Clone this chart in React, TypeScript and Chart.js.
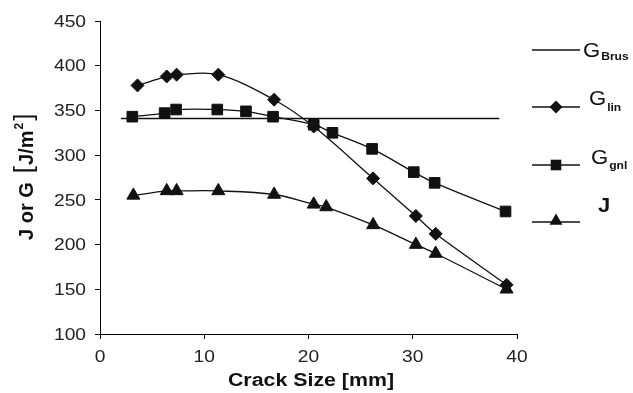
import React, { useEffect, useRef } from "react";
import { Chart, registerables } from "chart.js";

Chart.register(...registerables);

const brusX = [2.0, 38.3];
const brusY = [341, 341];

const linX = [3.6, 6.4, 7.35, 11.35, 16.7, 20.5, 26.2, 30.3, 32.2, 39.0];
const linY = [378, 388, 390, 390, 362, 332, 274, 232, 212, 155];

const gnlX = [3.1, 6.2, 7.3, 11.25, 14.0, 16.6, 20.5, 22.3, 26.1, 30.1, 32.1, 38.9];
const gnlY = [343, 347, 351, 351, 349, 343, 334, 325, 307, 281, 269, 237];

const jX = [3.2, 6.4, 7.35, 11.35, 16.7, 20.5, 21.7, 26.2, 30.3, 32.2, 39.0];
const jY = [255, 260, 260, 260, 256, 245, 242, 222, 200, 190, 150];

const xTicks = [0, 10, 20, 30, 40];
const yTicks = [100, 150, 200, 250, 300, 350, 400, 450];

const FONT = "'Liberation Sans', Arial, Helvetica, sans-serif";
const INK = "#111";

const pts = (xs: number[], ys: number[]) => xs.map((x, i) => ({ x, y: ys[i] }));

const fillStretched = (
  ctx: CanvasRenderingContext2D,
  text: string,
  x: number,
  y: number,
  sx: number,
  align: "left" | "right" | "center"
) => {
  ctx.save();
  ctx.translate(x, y);
  ctx.scale(sx, 1);
  ctx.textAlign = align;
  ctx.textBaseline = "alphabetic";
  ctx.fillText(text, 0, 0);
  ctx.restore();
};

const drawMarker = (ctx: CanvasRenderingContext2D, style: string, x: number, y: number, r: number) => {
  ctx.save();
  ctx.fillStyle = INK;
  ctx.beginPath();
  if (style === "rectRot") {
    ctx.moveTo(x, y - r);
    ctx.lineTo(x + r, y);
    ctx.lineTo(x, y + r);
    ctx.lineTo(x - r, y);
  } else if (style === "rect") {
    const s = Math.SQRT1_2 * r;
    ctx.rect(x - s, y - s, 2 * s, 2 * s);
  } else if (style === "triangle") {
    ctx.moveTo(x, y - r);
    ctx.lineTo(x + r * 0.866, y + r * 0.5);
    ctx.lineTo(x - r * 0.866, y + r * 0.5);
  }
  ctx.closePath();
  ctx.fill();
  ctx.restore();
};

const annotPlugin = {
  id: "annot",
  afterDraw(chart: any) {
    const ctx: CanvasRenderingContext2D = chart.ctx;
    const xs = chart.scales.x;
    const ys = chart.scales.y;
    ctx.save();
    ctx.fillStyle = INK;
    ctx.strokeStyle = INK;

    // Tick labels
    ctx.fillStyle = "#222";
    ctx.font = `16px ${FONT}`;
    yTicks.forEach((v) => {
      fillStretched(ctx, String(v), 86, ys.getPixelForValue(v) + 5.7, 1.2, "right");
    });
    xTicks.forEach((v) => {
      fillStretched(ctx, String(v), xs.getPixelForValue(v), 361.5, 1.2, "center");
    });
    ctx.fillStyle = INK;

    // X axis title
    ctx.font = `bold 17.5px ${FONT}`;
    fillStretched(ctx, "Crack Size [mm]", 311, 386, 1.22, "center");

    // Y axis title (rotated)
    ctx.save();
    ctx.translate(33, 240);
    ctx.rotate(-Math.PI / 2);
    ctx.textAlign = "left";
    ctx.textBaseline = "alphabetic";
    let px = 0;
    ctx.font = `bold 20px ${FONT}`;
    ctx.fillText("J or G", px, 0);
    px += ctx.measureText("J or G").width + 9;
    ctx.font = `26px ${FONT}`;
    ctx.fillText("[", px, -1.5);
    px += ctx.measureText("[").width + 1;
    ctx.font = `bold 20px ${FONT}`;
    ctx.fillText("J/m", px, 0);
    px += ctx.measureText("J/m").width + 1;
    ctx.font = `bold 12px ${FONT}`;
    ctx.fillText("2", px, -10);
    px += ctx.measureText("2").width + 2;
    ctx.font = `26px ${FONT}`;
    ctx.fillText("]", px, -1.5);
    ctx.restore();

    // Legend
    const entries = [
      { ly: 50, marker: "", main: "G", sub: "Brus", tx: 583, tb: 56.5, sb: 59.5 },
      { ly: 107, marker: "rectRot", main: "G", sub: "lin", tx: 589, tb: 105, sb: 111 },
      { ly: 165, marker: "rect", main: "G", sub: "gnl", tx: 591, tb: 163.5, sb: 169 },
      { ly: 222, marker: "triangle", main: "J", sub: "", tx: 598, tb: 212, sb: 0 },
    ];
    entries.forEach((e) => {
      ctx.lineWidth = 1.3;
      ctx.beginPath();
      ctx.moveTo(532, e.ly);
      ctx.lineTo(580, e.ly);
      ctx.stroke();
      if (e.marker) {
        const r = e.marker === "rectRot" ? 6.5 : 7.5;
        drawMarker(ctx, e.marker, 556, e.marker === "triangle" ? e.ly - 1 : e.ly, r);
      }
      if (e.main === "J") {
        ctx.font = `bold 20px ${FONT}`;
        fillStretched(ctx, "J", e.tx, e.tb, 1.1, "left");
      } else {
        ctx.font = `21px ${FONT}`;
        fillStretched(ctx, e.main, e.tx, e.tb, 1.05, "left");
        const w = ctx.measureText(e.main).width * 1.05;
        ctx.font = `bold 11px ${FONT}`;
        fillStretched(ctx, e.sub, e.tx + w + 1, e.sb, 1.1, "left");
      }
    });
    ctx.restore();
  },
};

export default function App() {
  const ref = useRef<HTMLCanvasElement | null>(null);

  useEffect(() => {
    if (!ref.current) return;
    const lineBase = {
      showLine: true,
      borderColor: INK,
      borderWidth: 1.3,
      pointBackgroundColor: INK,
      pointBorderColor: INK,
      pointBorderWidth: 1,
      tension: 0.35,
      fill: false,
    };
    const hiddenTicks = {
      font: { family: FONT, size: 16 },
      color: "rgba(0,0,0,0)",
      padding: 5,
      maxRotation: 0,
    };
    const chart = new Chart(ref.current, {
      type: "scatter",
      data: {
        datasets: [
          { ...lineBase, label: "GBrus", data: pts(brusX, brusY), pointRadius: 0, tension: 0 },
          { ...lineBase, label: "Glin", data: pts(linX, linY), pointStyle: "rectRot", pointRadius: 6.5 },
          { ...lineBase, label: "Ggnl", data: pts(gnlX, gnlY), pointStyle: "rect", pointRadius: 7.5 },
          { ...lineBase, label: "J", data: pts(jX, jY), pointStyle: "triangle", pointRadius: 7.5 },
        ] as any,
      },
      options: {
        animation: false,
        responsive: false,
        layout: { padding: { top: 21, right: 116, left: 0, bottom: 0 } },
        plugins: {
          legend: { display: false },
          tooltip: { enabled: false },
          title: { display: false },
        },
        scales: {
          x: {
            type: "linear",
            min: 0,
            max: 40,
            afterBuildTicks: (s: any) => {
              s.ticks = xTicks.map((v) => ({ value: v }));
            },
            afterFit: (s: any) => {
              s.height = 59;
            },
            ticks: hiddenTicks,
            grid: { drawOnChartArea: false, drawTicks: true, tickLength: 5, color: "#000", lineWidth: 1 },
            border: { display: true, color: "#000", width: 1 },
          },
          y: {
            type: "linear",
            min: 100,
            max: 450,
            afterBuildTicks: (s: any) => {
              s.ticks = yTicks.map((v) => ({ value: v }));
            },
            afterFit: (s: any) => {
              s.width = 100;
            },
            ticks: hiddenTicks,
            grid: { drawOnChartArea: false, drawTicks: true, tickLength: 5, color: "#000", lineWidth: 1 },
            border: { display: true, color: "#000", width: 1 },
          },
        },
      } as any,
      plugins: [annotPlugin],
    });
    return () => chart.destroy();
  }, []);

  return (
    <div style={{ position: "fixed", left: 0, top: 0, width: 633, height: 393, background: "#fff" }}>
      <canvas ref={ref} width={633} height={393} style={{ display: "block", width: 633, height: 393 }} />
    </div>
  );
}
